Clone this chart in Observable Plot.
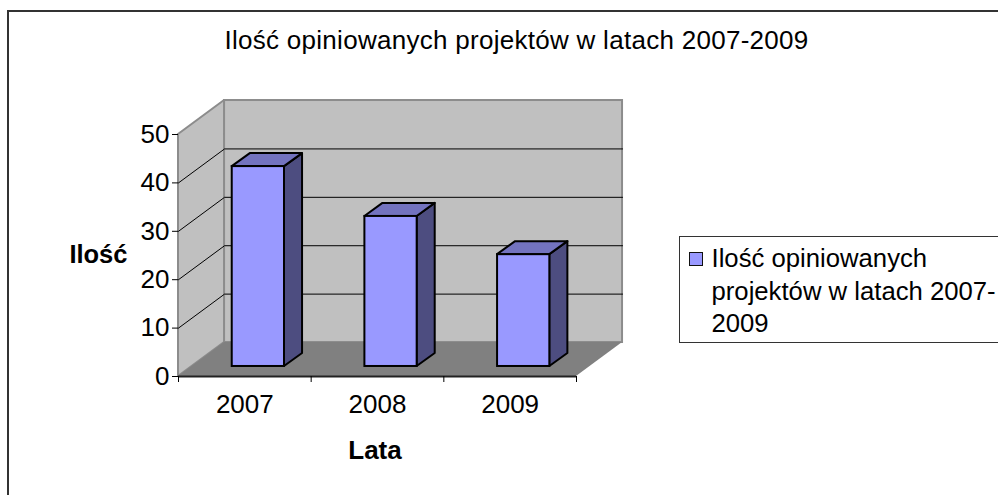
<!DOCTYPE html>
<html>
<head>
<meta charset="utf-8">
<script src="https://cdn.jsdelivr.net/npm/d3@7"></script>
<script src="https://cdn.jsdelivr.net/npm/@observablehq/plot@0.6"></script>
<style>
  html, body { margin: 0; padding: 0; background: #fff; }
  #chart { position: relative; width: 998px; height: 495px; overflow: hidden; font-family: "Liberation Sans", Arial, sans-serif; color: #000; }
  #chart svg { position: absolute; left: 0; top: 0; display: block; }
  #frame { position: absolute; left: 7px; top: 10px; right: -10px; bottom: -10px; border: 2px solid #333; }
  #legend { position: absolute; left: 679px; top: 236px; width: 340px; height: 105px; border: 1px solid #333; background: #fff; font-size: 25.7px; }
  #legend i { position: absolute; left: 9px; top: 15px; width: 12px; height: 12px; background: #9999ff; border: 1.5px solid #111; }
  #legend div { position: absolute; left: 31.5px; white-space: nowrap; line-height: 32px; }
  .chart-title text { letter-spacing: 0.28px; }
</style>
</head>
<body>
<div id="chart">
  <div id="frame"></div>
</div>
<script>
const years = ["2007", "2008", "2009"];
const counts = [41.3, 31, 23.1];
const yTicks = [0, 10, 20, 30, 40, 50];
const gridValues = [10, 20, 30, 40];
const xBoundaries = [0, 1, 2, 3];
const titleText = "Ilość opiniowanych projektów w latach 2007-2009";
const yTitle = "Ilość";
const xTitle = "Lata";
const legendLines = ["Ilość opiniowanych", "projektów w latach 2007-", "2009"];

// 3-D projection, in data units
const wallDx = 0.347, wallDy = 7.02;     // depth of the floor and the side wall
const barW = 0.394;                      // bar width
const baseDx = 0.102, baseDy = 2.07;     // bar's offset from the front of the floor
const barDx = 0.136, barDy = 2.69;       // bar's depth

const bars = years.map((year, i) => {
  const x1 = i + 0.5 + baseDx - barW / 2;
  return { year, x1, x2: x1 + barW, y1: baseDy, y2: baseDy + counts[i] };
});

const sideFace = bars.flatMap(b => [
  { year: b.year, x: b.x2, y1: b.y1, y2: b.y2 },
  { year: b.year, x: b.x2 + barDx, y1: b.y1 + barDy, y2: b.y2 + barDy }
]);
const topFace = bars.flatMap(b => [
  { year: b.year, y: b.y2, x1: b.x1, x2: b.x2 },
  { year: b.year, y: b.y2 + barDy, x1: b.x1 + barDx, x2: b.x2 + barDx }
]);
const gridPaths = gridValues.flatMap(v => [
  { v, x: 0, y: v },
  { v, x: wallDx, y: v + wallDy },
  { v, x: 3 + wallDx, y: v + wallDy }
]);

const plot = Plot.plot({
  width: 998,
  height: 495,
  marginLeft: 178,
  marginRight: 422,
  marginTop: 134,
  marginBottom: 119,
  style: { background: "transparent", fontFamily: "'Liberation Sans', Arial, sans-serif" },
  x: { type: "linear", domain: [0, 3], axis: null },
  y: { type: "linear", domain: [0, 50], axis: null },
  marks: [
    // back wall
    Plot.rect([0], { x1: wallDx, x2: 3 + wallDx, y1: wallDy, y2: 50 + wallDy, fill: "#c0c0c0", stroke: "#8c8c8c", strokeWidth: 2 }),
    // side wall
    Plot.areaY([{ x: 0, y1: 0, y2: 50 }, { x: wallDx, y1: wallDy, y2: 50 + wallDy }],
      { x: "x", y1: "y1", y2: "y2", fill: "#c0c0c0", stroke: "#8c8c8c", strokeWidth: 2 }),
    // floor
    Plot.areaX([{ y: 0, x1: 0, x2: 3 }, { y: wallDy, x1: wallDx, x2: 3 + wallDx }],
      { y: "y", x1: "x1", x2: "x2", fill: "#808080" }),
    // gridlines
    Plot.line(gridPaths, { x: "x", y: "y", z: "v", stroke: "#000", strokeWidth: 1 }),
    // axes
    Plot.axisY(yTicks, { anchor: "left", tickSize: 6, tickPadding: 3, fontSize: 26, label: null, stroke: "#000", color: "#000" }),
    Plot.ruleY([0], { stroke: "#222", strokeWidth: 2 }),
    Plot.axisX(xBoundaries, { anchor: "bottom", tickSize: 6, tickFormat: () => "", label: null, stroke: "#000" }),
    Plot.text(years, { x: (d, i) => i + 0.5, y: 0, dy: 28, fontSize: 26, fill: "#000" }),
    // bars
    Plot.areaY(sideFace, { x: "x", y1: "y1", y2: "y2", z: "year", fill: "#4d4d80", stroke: "#000", strokeWidth: 2 }),
    Plot.areaX(topFace, { y: "y", x1: "x1", x2: "x2", z: "year", fill: "#7373bf", stroke: "#000", strokeWidth: 2 }),
    Plot.rect(bars, { x1: "x1", x2: "x2", y1: "y1", y2: "y2", fill: "#9999ff", stroke: "#000", strokeWidth: 2 }),
    // titles
    Plot.text([titleText], { className: "chart-title", frameAnchor: "top", dx: 139, dy: -104, fontSize: 26, fill: "#000" }),
    Plot.text([yTitle], { frameAnchor: "left", dx: -51, dy: -1, textAnchor: "end", fontSize: 25.5, fontWeight: "bold", fill: "#000" }),
    Plot.text([xTitle], { frameAnchor: "bottom", dx: -2.5, dy: 82, fontSize: 26, fontWeight: "bold", fill: "#000" })
  ]
});

const chart = document.getElementById("chart");
chart.appendChild(plot);

const legend = document.createElement("div");
legend.id = "legend";
legend.appendChild(document.createElement("i"));
legendLines.forEach((line, i) => {
  const row = document.createElement("div");
  row.textContent = line;
  row.style.top = (5 + i * 32.5) + "px";
  legend.appendChild(row);
});
chart.appendChild(legend);
</script>
</body>
</html>
